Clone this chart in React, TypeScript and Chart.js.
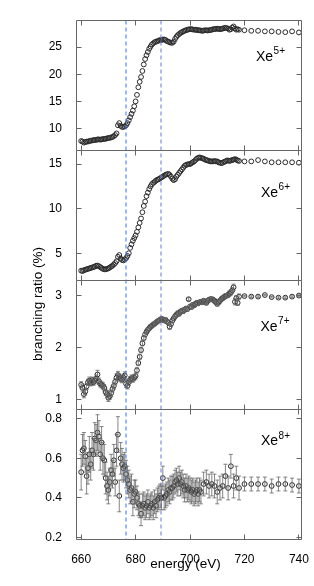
import { useEffect, useRef } from 'react';
import { Chart, registerables } from 'chart.js';

Chart.register(...registerables);

// photon energy (eV)
const energy = [
  660, 660.5, 661, 661.5, 662, 662.5, 663, 663.5, 664, 664.5,
  665, 665.5, 666, 666.5, 667, 667.5, 668, 668.5, 669, 669.5,
  670, 670.5, 671, 671.5, 672, 672.5, 673, 673.5, 674, 674.5,
  675, 675.5, 676, 676.5, 677, 677.5, 678, 678.5, 679, 679.5,
  680, 680.5, 681, 681.5, 682, 682.5, 683, 683.5, 684, 684.5,
  685, 685.5, 686, 686.5, 687, 687.5, 688, 688.5, 689, 689.5,
  690, 690.5, 691, 691.5, 692, 692.5, 693, 693.5, 694, 694.5,
  695, 695.5, 696, 696.5, 697, 697.5, 698, 698.5, 699, 699.5,
  700, 700.5, 701, 701.5, 702, 702.5, 703, 703.5, 704, 704.5,
  705, 705.5, 706, 706.5, 707, 707.5, 708, 708.5, 709, 709.5,
  710, 710.5, 711, 711.5, 712, 712.5, 713, 713.5, 714, 714.5,
  715, 715.5, 716, 716.5, 717, 717.5, 718,
  720, 722.5, 725, 727.5, 730, 732.5, 735, 737.5, 740,
];

const xe5 = [
  7.7, 7.6, 7.4, 7.5, 7.6, 7.6, 7.7, 7.75, 7.8, 7.85,
  7.9, 7.9, 8.0, 8.0, 7.95, 8.0, 8.05, 8.1, 8.1, 8.2,
  8.25, 8.3, 8.35, 8.45, 8.6, 8.8, 9.1, 10.6, 11.0, 10.5,
  10.3, 10.3, 10.4, 10.6, 11.0, 11.5, 12.1, 12.7, 13.3, 14.1,
  15.0, 16.2, 17.6, 18.6, 19.5, 20.6, 21.8, 22.8, 23.5, 24.1,
  24.7, 25.1, 25.5, 25.7, 25.9, 26.0, 26.1, 26.2, 26.3, 26.3,
  26.4, 26.4, 26.3, 26.1, 26.0, 25.9, 25.8, 25.8, 26.0, 26.5,
  26.9, 27.2, 27.4, 27.6, 27.75, 27.9, 28.0, 28.1, 28.2, 28.25,
  28.3, 28.3, 28.25, 28.2, 28.2, 28.15, 28.1, 28.1, 28.05, 28.0,
  28.05, 28.1, 28.1, 28.05, 28.1, 28.15, 28.2, 28.3, 28.3, 28.35,
  28.4, 28.35, 28.3, 28.35, 28.4, 28.5, 28.55, 28.5, 28.4, 28.2,
  28.3, 28.6, 28.8, 28.4, 28.2, 28.3, 28.2,
  28.1, 28.0, 28.0, 27.9, 27.9, 27.8, 27.75, 27.9, 27.7,
];

const xe6 = [
  3.05, 3.0, 3.1, 3.15, 3.2, 3.25, 3.3, 3.35, 3.4, 3.45,
  3.5, 3.6, 3.62, 3.55, 3.45, 3.35, 3.25, 3.2, 3.2, 3.25,
  3.3, 3.4, 3.5, 3.6, 3.75, 3.9, 4.1, 4.6, 4.8, 4.4,
  4.25, 4.2, 4.3, 4.45, 4.7, 5.0, 5.6, 6.0, 6.4, 6.7,
  7.0, 7.4, 7.9, 8.4, 8.9, 9.6, 10.3, 10.8, 11.4, 11.8,
  12.2, 12.5, 12.75, 12.9, 13.0, 13.15, 13.25, 13.3, 13.4, 13.5,
  13.6, 13.7, 13.8, 13.85, 13.9, 13.8, 13.6, 13.35, 13.2, 13.3,
  13.6, 13.8, 14.0, 14.2, 14.4, 14.6, 14.8, 14.9, 14.95, 15.0,
  15.0, 15.1, 15.2, 15.3, 15.45, 15.6, 15.7, 15.75, 15.7, 15.65,
  15.6, 15.5, 15.45, 15.4, 15.35, 15.3, 15.3, 15.3, 15.35, 15.3,
  15.3, 15.2, 15.15, 15.1, 15.15, 15.25, 15.3, 15.4, 15.4, 15.35,
  15.4, 15.45, 15.5, 15.55, 15.5, 15.4, 15.35,
  15.3, 15.3, 15.45, 15.3, 15.2, 15.2, 15.2, 15.2, 15.15,
];

const xe7 = [
  1.28, 1.22, 1.10, 1.15, 1.25, 1.33, 1.36, 1.32, 1.37, 1.33,
  1.36, 1.40, 1.48, 1.35, 1.30, 1.28, 1.26, 1.22, 1.14, 1.10,
  1.03, 1.06, 1.12, 1.20, 1.26, 1.34, 1.42, 1.47, 1.43, 1.40,
  1.38, 1.42, 1.46, 1.30, 1.26, 1.33, 1.38, 1.41, 1.39, 1.42,
  1.45, 1.56, 1.70, 1.82, 1.95, 2.08, 2.18, 2.25, 2.30, 2.34,
  2.37, 2.40, 2.42, 2.44, 2.46, 2.48, 2.50, 2.52, 2.53, 2.55,
  2.54, 2.52, 2.53, 2.50, 2.48, 2.40, 2.45, 2.52, 2.56, 2.60,
  2.63, 2.66, 2.65, 2.69, 2.71, 2.70, 2.73, 2.75, 2.74, 2.93,
  2.79, 2.78, 2.82, 2.81, 2.84, 2.86, 2.85, 2.87, 2.88, 2.87,
  2.90, 2.88, 2.86, 2.90, 2.92, 2.93, 2.93, 2.92, 2.90, 2.87,
  2.84, 2.87, 2.90, 2.93, 2.95, 2.97, 2.99, 3.00, 3.01, 3.04,
  3.06, 3.10, 3.16, 2.88, 2.95, 2.86, 2.98,
  2.99, 2.98, 2.98, 3.01, 2.97, 2.96, 2.96, 2.98, 3.00,
];

const xe7Err = [
  0.06, 0.06, 0.07, 0.06, 0.06, 0.06, 0.07, 0.06, 0.06, 0.06,
  0.06, 0.07, 0.08, 0.06, 0.06, 0.06, 0.06, 0.06, 0.06, 0.07,
  0.07, 0.06, 0.06, 0.06, 0.06, 0.06, 0.07, 0.07, 0.06, 0.06,
  0.06, 0.06, 0.07, 0.07, 0.06, 0.06, 0.06, 0.06, 0.06, 0.06,
  0.06, 0.05, 0.05, 0.05, 0.05, 0.05, 0.04, 0.04, 0.04, 0.04,
  0.04, 0.04, 0.04, 0.04, 0.04, 0.04, 0.04, 0.04, 0.04, 0.04,
  0.04, 0.04, 0.04, 0.04, 0.04, 0.05, 0.04, 0.04, 0.04, 0.04,
  0.04, 0.04, 0.04, 0.04, 0.04, 0.04, 0.04, 0.04, 0.04, 0.03,
  0.04, 0.04, 0.04, 0.04, 0.04, 0.04, 0.04, 0.04, 0.04, 0.04,
  0.04, 0.04, 0.04, 0.04, 0.04, 0.04, 0.04, 0.04, 0.04, 0.04,
  0.04, 0.04, 0.04, 0.04, 0.04, 0.04, 0.04, 0.04, 0.04, 0.05,
  0.05, 0.05, 0.06, 0.06, 0.05, 0.05, 0.05,
  0.015, 0.015, 0.015, 0.015, 0.015, 0.015, 0.015, 0.015, 0.015,
];

const xe8 = [
  0.53, 0.64, 0.65, 0.61, 0.51, 0.55, 0.62, 0.57, 0.64, 0.62,
  0.70, 0.69, 0.73, 0.71, 0.62, 0.68, 0.60, 0.59, 0.50, 0.46,
  0.44, 0.48, 0.54, 0.52, 0.59, 0.48, 0.64, 0.72, 0.41, 0.60,
  0.57, 0.55, 0.56, 0.52, 0.49, 0.47, 0.44, 0.45, 0.38, 0.42,
  0.43, 0.40, 0.37, 0.36, 0.32, 0.36, 0.37, 0.35, 0.36, 0.38,
  0.35, 0.36, 0.37, 0.35, 0.38, 0.36, 0.39, 0.40, 0.41, 0.40,
  0.50, 0.40, 0.41, 0.42, 0.44, 0.43, 0.45, 0.45, 0.46, 0.48,
  0.49, 0.47, 0.50, 0.47, 0.48, 0.46, 0.44, 0.46, 0.44, 0.45,
  0.44, 0.43, 0.44, 0.42, 0.43, 0.44, 0.42, 0.44, 0.43, null,
  0.47, null, 0.48, null, 0.46, null, 0.47, null, 0.46, null,
  0.43, null, 0.45, null, 0.46, null, 0.51, null, 0.45, null,
  0.56, null, 0.46, null, 0.50, null, 0.45,
  0.47, 0.47, 0.47, 0.47, 0.46, 0.47, 0.47, 0.465, 0.46,
];

const xe8Err = [
  0.09, 0.08, 0.08, 0.08, 0.09, 0.08, 0.09, 0.08, 0.09, 0.08,
  0.08, 0.08, 0.09, 0.08, 0.08, 0.08, 0.08, 0.08, 0.08, 0.07,
  0.07, 0.07, 0.08, 0.07, 0.08, 0.07, 0.08, 0.09, 0.08, 0.08,
  0.08, 0.07, 0.07, 0.07, 0.07, 0.07, 0.07, 0.07, 0.07, 0.07,
  0.06, 0.06, 0.06, 0.06, 0.06, 0.06, 0.06, 0.06, 0.06, 0.06,
  0.06, 0.06, 0.06, 0.06, 0.06, 0.06, 0.06, 0.06, 0.06, 0.06,
  0.06, 0.06, 0.06, 0.06, 0.06, 0.06, 0.06, 0.06, 0.06, 0.06,
  0.06, 0.06, 0.06, 0.06, 0.06, 0.06, 0.06, 0.06, 0.06, 0.06,
  0.06, 0.06, 0.06, 0.06, 0.06, 0.06, 0.06, 0.06, 0.06, 0,
  0.06, 0, 0.06, 0, 0.06, 0, 0.06, 0, 0.06, 0,
  0.06, 0, 0.06, 0, 0.06, 0, 0.06, 0, 0.06, 0,
  0.06, 0, 0.06, 0, 0.06, 0, 0.06,
  0.035, 0.035, 0.035, 0.035, 0.035, 0.035, 0.035, 0.035, 0.035,
];

const xTicks = [660, 680, 700, 720, 740];
const ticks5 = [10, 15, 20, 25];
const ticks6 = [5, 10, 15];
const ticks7 = [1, 2, 3];
const ticks8 = [0.2, 0.4, 0.6, 0.8];
const edgeEnergies = [676.4, 689.2];
const chargeStates = ['5+', '6+', '7+', '8+'];

const FONT = '"Liberation Sans", Arial, Helvetica, sans-serif';
const EDGE_COLORS = ['rgb(60,130,255)', 'rgb(120,130,235)'];
const FRAME = '#666';

export default function App() {
  const ref = useRef<HTMLCanvasElement>(null);

  useEffect(() => {
    const panels = [
      { id: 'y5', vals: xe5, err: null as number[] | null, min: 6, max: 29.9, ticks: ticks5, charge: chargeStates[0], lx: 256, ldy: 40 },
      { id: 'y6', vals: xe6, err: null as number[] | null, min: 2, max: 16.55, ticks: ticks6, charge: chargeStates[1], lx: 261, ldy: 46.5 },
      { id: 'y7', vals: xe7, err: xe7Err, min: 0.8, max: 3.3, ticks: ticks7, charge: chargeStates[2], lx: 260.5, ldy: 50.5 },
      { id: 'y8', vals: xe8, err: xe8Err, min: 0.19, max: 0.845, ticks: ticks8, charge: chargeStates[3], lx: 261, ldy: 35.5 },
    ];

    const datasets = panels.map((p) => ({
      label: 'Xe' + p.charge,
      yAxisID: p.id,
      xAxisID: 'x',
      data: energy
        .map((e, i) => ({ x: e, y: p.vals[i] as number | null }))
        .filter((d) => d.y !== null) as { x: number; y: number }[],
      pointStyle: 'circle' as const,
      pointRadius: 2.4,
      pointBorderWidth: 1,
      pointBorderColor: '#2a2a2a',
      pointBackgroundColor: 'rgba(0,0,0,0)',
      showLine: false,
    }));

    const yScale = (p: (typeof panels)[number]) => ({
      type: 'linear' as const,
      position: 'left' as const,
      stack: 'panels',
      stackWeight: 1,
      min: p.min,
      max: p.max,
      grid: { display: false },
      border: { display: false },
      afterBuildTicks: (s: any) => {
        s.ticks = p.ticks.map((v) => ({ value: v }));
      },
      afterFit: (s: any) => {
        s.width = 76;
      },
      ticks: {
        color: '#000',
        padding: 6,
        font: { family: FONT, size: 12 },
      },
    });

    // later keys are placed higher in the stack
    const scales: any = {
      x: {
        type: 'linear',
        position: 'bottom',
        min: 658.1,
        max: 740.8,
        grid: { display: false },
        border: { display: false },
        afterBuildTicks: (s: any) => {
          s.ticks = xTicks.map((v) => ({ value: v }));
        },
        afterFit: (s: any) => {
          s.height = 46.5;
        },
        ticks: {
          color: '#000',
          padding: 5,
          maxRotation: 0,
          autoSkip: false,
          font: { family: FONT, size: 12 },
        },
      },
      y8: yScale(panels[3]),
      y7: yScale(panels[2]),
      y6: yScale(panels[1]),
      y5: yScale(panels[0]),
    };

    const snap = (v: number) => Math.floor(v) + 0.5;

    const decor = {
      id: 'decor',
      afterDatasetsDraw(chart: any) {
        const { ctx, chartArea: ca, scales: sc } = chart;
        const xs = sc.x;
        const L = snap(ca.left);
        const R = snap(ca.right);
        const TL = 5;

        // absorption-edge markers (drawn at their exact, unsnapped position)
        edgeEnergies.forEach((e, i) => {
          const x = Math.floor(xs.getPixelForValue(e)) + 1;
          ctx.save();
          ctx.lineWidth = 1.1;
          ctx.setLineDash([4, 3]);
          ctx.strokeStyle = EDGE_COLORS[i];
          ctx.beginPath();
          ctx.moveTo(x, ca.top);
          ctx.lineTo(x, ca.bottom);
          ctx.stroke();
          ctx.restore();
        });

        ctx.save();
        // error bars
        ctx.strokeStyle = '#666';
        ctx.lineWidth = 0.8;
        panels.forEach((p) => {
          if (!p.err) return;
          const ys = sc[p.id];
          energy.forEach((e, i) => {
            const v = p.vals[i] as number | null;
            const d = p.err![i];
            if (v === null || !d) return;
            const x = xs.getPixelForValue(e);
            const y1 = ys.getPixelForValue(v - d);
            const y2 = ys.getPixelForValue(v + d);
            ctx.beginPath();
            ctx.moveTo(x, y1);
            ctx.lineTo(x, y2);
            ctx.moveTo(x - 2, y1);
            ctx.lineTo(x + 2, y1);
            ctx.moveTo(x - 2, y2);
            ctx.lineTo(x + 2, y2);
            ctx.stroke();
          });
        });

        ctx.strokeStyle = FRAME;
        ctx.lineWidth = 1;
        panels.forEach((p) => {
          const ys = sc[p.id];
          const top = snap(ys.top);
          const bottom = snap(ys.bottom);
          ctx.beginPath();
          ctx.rect(L, top, R - L, bottom - top);
          ys.ticks.forEach((t: any) => {
            const y = snap(ys.getPixelForValue(t.value));
            ctx.moveTo(L, y);
            ctx.lineTo(L + TL, y);
            ctx.moveTo(R, y);
            ctx.lineTo(R - TL, y);
          });
          xs.ticks.forEach((t: any) => {
            const x = snap(xs.getPixelForValue(t.value));
            ctx.moveTo(x, top);
            ctx.lineTo(x, top + TL);
            ctx.moveTo(x, bottom);
            ctx.lineTo(x, bottom - TL);
          });
          ctx.stroke();

          // panel label
          const base = ys.top + p.ldy;
          ctx.fillStyle = '#000';
          ctx.textAlign = 'left';
          ctx.textBaseline = 'alphabetic';
          ctx.font = `14px ${FONT}`;
          ctx.fillText('Xe', p.lx, base);
          const w = ctx.measureText('Xe').width;
          ctx.font = `10px ${FONT}`;
          ctx.fillText(p.charge, p.lx + w + 0.5, base - 6.5);
        });

        // axis titles
        ctx.fillStyle = '#000';
        ctx.font = `13.5px ${FONT}`;
        ctx.textAlign = 'center';
        ctx.textBaseline = 'alphabetic';
        ctx.fillText('energy (eV)', 185.5, 568);
        ctx.translate(42, 304);
        ctx.rotate(-Math.PI / 2);
        ctx.fillText('branching ratio (%)', 0, 0);
        ctx.restore();
      },
    };

    const chart = new Chart(ref.current!, {
      type: 'scatter',
      data: { datasets },
      options: {
        responsive: false,
        animation: false,
        events: [],
        layout: { padding: { left: 0, right: 10, top: 20.5, bottom: 0 } },
        plugins: { legend: { display: false }, tooltip: { enabled: false } },
        scales,
      },
      plugins: [decor],
    });
    return () => chart.destroy();
  }, []);

  return (
    <canvas
      ref={ref}
      width={314}
      height={586}
      style={{ position: 'fixed', left: 0, top: 0, width: 314, height: 586, background: '#fff' }}
    />
  );
}
